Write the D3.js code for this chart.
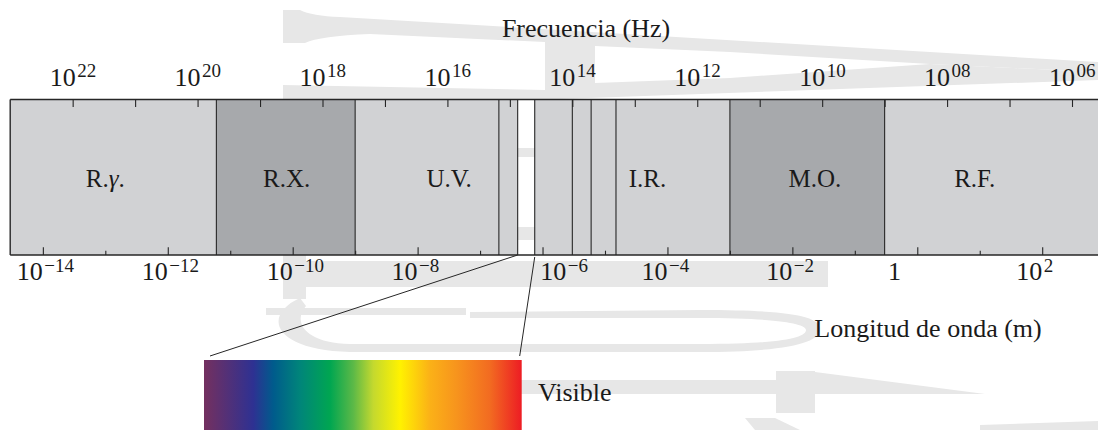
<!DOCTYPE html>
<html>
<head>
<meta charset="utf-8">
<script src="https://cdn.jsdelivr.net/npm/d3@7"></script>
<style>
  body { margin: 0; background: #fff; }
  svg text { font-family: "Liberation Serif", "Times New Roman", serif; fill: #1a1a1a; }
</style>
</head>
<body>
<div id="chart"></div>
<script>
// Espectro electromagnético: bandas en frecuencia, ejes en Hz y en metros

const C = 3e8; // velocidad de la luz, m/s

// bordes de banda (Hz), de mayor a menor frecuencia
const bandEdgesHz = [1e23, 5e19, 3e17, 1.5e15, 7.5e14, 4e14, 1e14, 5e13, 2e13, 3e11, 1e9, 1e5];
// tipo de relleno de cada tramo entre bordes
const bandKind = ["light", "dark", "light", "light", "visible", "light", "light", "light", "light", "dark", "light"];

// etiquetas de las bandas (prefijo, símbolo en cursiva, sufijo) y longitud de onda (m) donde se centran
const bandLabelPre = ["R.", "R.X.", "U.V.", "I.R.", "M.O.", "R.F."];
const bandLabelSym = ["γ", "", "", "", "", ""];
const bandLabelPost = [".", "", "", "", "", ""];
const bandLabelAt = [1e-13, 8e-11, 3.2e-8, 4.8e-5, 2.3e-2, 8.3];

// eje de frecuencia (arriba)
const freqTickExp = d3.range(22, 5, -1);
const freqLabelExp = [22, 20, 18, 16, 14, 12, 10, 8, 6];
const freqLabelSup = ["22", "20", "18", "16", "14", "12", "10", "08", "06"];

// eje de longitud de onda (abajo)
const wavMajorExp = [-14, -12, -10, -8, -6, -4, -2, 0, 2];
const wavMinorExp = [-13, -11, -9, -7, -5, -3, -1, 1];
const wavLabelBase = ["10", "10", "10", "10", "10", "10", "10", "1", "10"];
const wavLabelSup = ["−14", "−12", "−10", "−8", "−6", "−4", "−2", "", "2"];
const wavLabelAt = [-14, -12, -10, -8, -5.62, -4, -2, -0.26, 2]; // log10(m), borde derecho del "10"

// región visible (m) y sus colores
const visibleRange = [4e-7, 7.5e-7];
const spectrumStops = [0, 0.155, 0.218, 0.302, 0.397, 0.47, 0.533, 0.617, 0.711, 0.795, 0.9, 1];
const spectrumColors = ["#74305f", "#2e3192", "#005b8c", "#00857a", "#00a651", "#5cb947",
                        "#c4d92e", "#fff200", "#fbb117", "#f7941d", "#f26b21", "#ed1c24"];

const width = 1098, height = 430;
const barTop = 99.5, barBottom = 255;
const fills = { light: "#d1d2d4", dark: "#a7a9ac", visible: "none" };
const ink = "#262626";

const svg = d3.select("#chart").append("svg")
    .attr("width", width)
    .attr("height", height)
    .attr("viewBox", [0, 0, width, height]);

// escalas: log en frecuencia (decreciente) y log en longitud de onda
const xF = d3.scaleLog().domain([1e23, 1e6]).range([10.2, 1072]);
const xW = d3.scaleLog().domain([C / 1e23, C / 1e6]).range([10.2, 1072]);

// marca de agua de fondo (gris claro)
const wmColor = "#e7e7e7";
const wm = svg.append("g").attr("fill", wmColor).attr("stroke", "none");
wm.append("path").attr("d", "M283,10 L300,10 Q312,16 340,17 L1098,62 L1098,72 L930,64 L730,52 L595,46 L545,42 L370,34 Q320,36 305,43 L283,43 Z");
wm.append("path").attr("d", "M283,85 L545,90 L595,83 L730,78 L930,64 L1098,72 L1098,80 L560,99 L283,99 Z");
wm.append("rect").attr("x", 545).attr("y", 42).attr("width", 50).attr("height", 50);
wm.append("rect").attr("x", 283).attr("y", 99).attr("width", 23).attr("height", 200);
wm.append("rect").attr("x", 283).attr("y", 261).attr("width", 545).attr("height", 26);
wm.append("rect").attr("x", 500).attr("y", 148).attr("width", 50).attr("height", 9);
wm.append("rect").attr("x", 500).attr("y", 227).attr("width", 50).attr("height", 13);
wm.append("rect").attr("x", 266).attr("y", 308).attr("width", 200).attr("height", 7);
wm.append("path")
    .attr("d", "M300,298 C262,315 272,350 350,352 L700,352 C790,352 822,342 820,328 C818,316 790,310 700,310 L470,312 L470,318 L700,318 C780,318 806,324 806,330 C806,338 780,344 700,344 L350,344 C305,343 292,322 306,306 Z");
wm.append("rect").attr("x", 500).attr("y", 380).attr("width", 280).attr("height", 14);
wm.append("rect").attr("x", 776).attr("y", 371).attr("width", 39).attr("height", 42);
wm.append("path").attr("d", "M815,372 L985,394 L815,394 Z");
wm.append("path").attr("d", "M745,418 L775,418 L800,430 L755,430 Z");
wm.append("path").attr("d", "M980,425 L1098,421 L1098,430 L980,430 Z");

// bandas
const bands = bandKind.map((k, i) => ({ kind: k, f0: bandEdgesHz[i], f1: bandEdgesHz[i + 1] }));
const bar = svg.append("g");
bar.selectAll("rect.band")
    .data(bands)
    .enter().append("rect")
    .attr("class", "band")
    .attr("x", d => xF(d.f0))
    .attr("y", barTop)
    .attr("width", d => xF(d.f1) - xF(d.f0))
    .attr("height", barBottom - barTop)
    .attr("fill", d => fills[d.kind]);

// líneas de separación entre bandas
bar.selectAll("line.edge")
    .data(bandEdgesHz.slice(1, -1))
    .enter().append("line")
    .attr("class", "edge")
    .attr("x1", d => xF(d)).attr("x2", d => xF(d))
    .attr("y1", barTop).attr("y2", barBottom)
    .attr("stroke", ink).attr("stroke-width", 1.1);

// ticks de frecuencia (arriba, hacia dentro)
const topAxis = svg.append("g")
    .attr("transform", `translate(0,${barTop})`)
    .call(d3.axisBottom(xF).tickValues(freqTickExp.map(e => Math.pow(10, e))).tickSize(7.5).tickFormat(""));
// ticks de longitud de onda (abajo, hacia dentro)
const botMajor = svg.append("g")
    .attr("transform", `translate(0,${barBottom})`)
    .call(d3.axisTop(xW).tickValues(wavMajorExp.map(e => Math.pow(10, e))).tickSize(7.7).tickFormat(""));
const botMinor = svg.append("g")
    .attr("transform", `translate(0,${barBottom})`)
    .call(d3.axisTop(xW).tickValues(wavMinorExp.map(e => Math.pow(10, e))).tickSize(4.3).tickFormat(""));
[topAxis, botMajor, botMinor].forEach(a => {
    a.select(".domain").remove();
    a.selectAll(".tick line").attr("stroke", ink).attr("stroke-width", 1.1);
});

// marco de la barra
bar.append("line").attr("x1", xF(1e23)).attr("x2", width + 20).attr("y1", barTop).attr("y2", barTop)
    .attr("stroke", ink).attr("stroke-width", 1.4);
bar.append("line").attr("x1", xF(1e23)).attr("x2", width + 20).attr("y1", barBottom).attr("y2", barBottom)
    .attr("stroke", ink).attr("stroke-width", 1.4);
bar.append("line").attr("x1", xF(1e23)).attr("x2", xF(1e23)).attr("y1", barTop).attr("y2", barBottom)
    .attr("stroke", ink).attr("stroke-width", 1.4);

// etiquetas de bandas
const bl = svg.selectAll("text.band")
    .data(bandLabelPre)
    .enter().append("text")
    .attr("class", "band")
    .attr("x", (d, i) => xW(bandLabelAt[i]))
    .attr("y", 187)
    .attr("text-anchor", "middle")
    .attr("font-size", 25);
bl.append("tspan").text(d => d);
bl.append("tspan").attr("font-style", "italic").text((d, i) => bandLabelSym[i]);
bl.append("tspan").text((d, i) => bandLabelPost[i]);

// etiquetas de potencias de diez
function powerLabels(cls, xs, bases, sups, baseY, supRaise) {
    const g = svg.append("g").attr("class", cls);
    const lab = g.selectAll("g").data(bases).enter().append("g");
    lab.append("text")
        .attr("x", (d, i) => xs[i])
        .attr("y", baseY)
        .attr("text-anchor", "end")
        .attr("font-size", 26)
        .text(d => d);
    lab.append("text")
        .attr("x", (d, i) => xs[i] + 1.5)
        .attr("y", baseY - supRaise)
        .attr("text-anchor", "start")
        .attr("font-size", 19)
        .text((d, i) => sups[i]);
}
powerLabels("freq-labels", freqLabelExp.map(e => xF(Math.pow(10, e)) + 3),
    freqLabelExp.map(() => "10"), freqLabelSup, 86, 9);
powerLabels("wav-labels", wavLabelAt.map(e => xW(Math.pow(10, e))),
    wavLabelBase, wavLabelSup, 280, 8);

// títulos de ejes
svg.append("text").attr("x", 586).attr("y", 37).attr("text-anchor", "middle")
    .attr("font-size", 26).text("Frecuencia (Hz)");
svg.append("text").attr("x", 928).attr("y", 337).attr("text-anchor", "middle")
    .attr("font-size", 26).text("Longitud de onda (m)");

// ampliación del visible
const grad = svg.append("defs").append("linearGradient")
    .attr("id", "visgrad").attr("x1", "0%").attr("x2", "100%").attr("y1", "0%").attr("y2", "0%");
grad.selectAll("stop")
    .data(spectrumStops)
    .enter().append("stop")
    .attr("offset", d => d)
    .attr("stop-color", (d, i) => spectrumColors[i]);

const spec = { x0: 204, x1: 521.7, y0: 360, y1: 430 };
svg.append("rect")
    .attr("x", spec.x0).attr("y", spec.y0)
    .attr("width", spec.x1 - spec.x0).attr("height", spec.y1 - spec.y0)
    .attr("fill", "url(#visgrad)");

// líneas de zoom desde los bordes del visible hasta el recuadro
svg.append("line")
    .attr("x1", xW(visibleRange[0])).attr("y1", barBottom)
    .attr("x2", spec.x0 + 6).attr("y2", spec.y0 - 4)
    .attr("stroke", ink).attr("stroke-width", 1);
svg.append("line")
    .attr("x1", xW(visibleRange[1])).attr("y1", barBottom + 2)
    .attr("x2", spec.x1 - 2).attr("y2", spec.y0 - 4)
    .attr("stroke", ink).attr("stroke-width", 1);

svg.append("text").attr("x", 538).attr("y", 401).attr("font-size", 26).text("Visible");
</script>
</body>
</html>
